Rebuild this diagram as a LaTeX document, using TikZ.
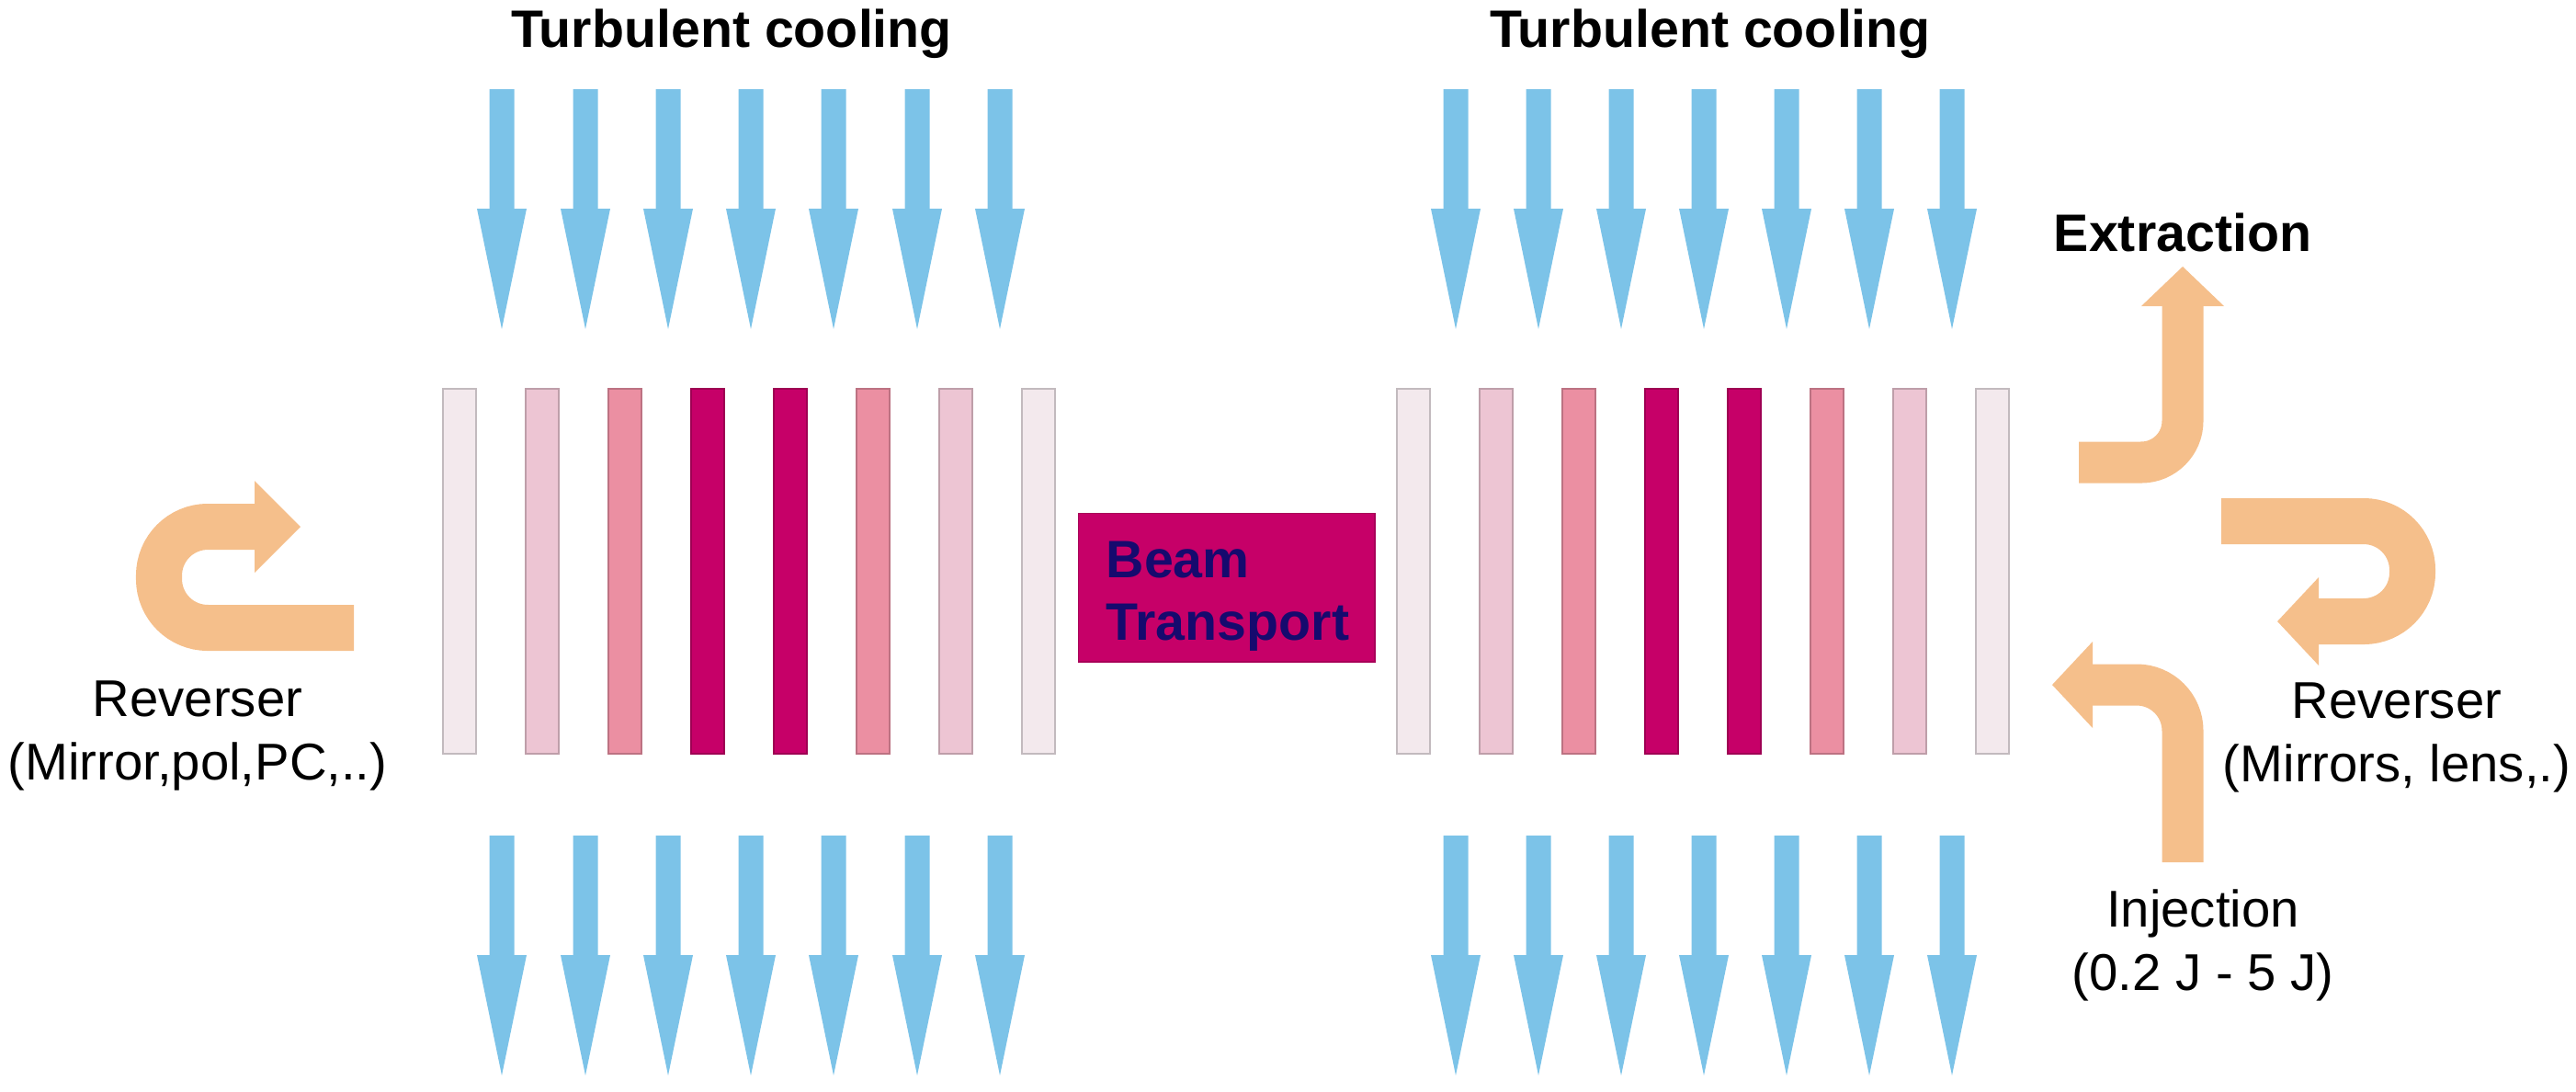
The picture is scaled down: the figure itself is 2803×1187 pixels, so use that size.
\documentclass[tikz,border=0pt]{standalone}
\usepackage{fontspec}
\setmainfont{Liberation Sans}

\definecolor{coolblue}{RGB}{124,195,232}
\definecolor{beamor}{RGB}{245,191,139}
\definecolor{slabA}{RGB}{243,233,237}
\definecolor{slabB}{RGB}{237,197,211}
\definecolor{slabC}{RGB}{235,143,162}
\definecolor{slabD}{RGB}{198,0,104}
\definecolor{navytext}{RGB}{22,10,110}

\begin{document}
\begin{tikzpicture}[x=0.01cm,y=-0.01cm,
    slab/.style={draw=#1!80!black,fill=#1,line width=0.6pt,minimum width=0.36cm,minimum height=3.96cm,inner sep=0pt},
    cooling/.style={fill=coolblue},
    beamflow/.style={draw=beamor,line width=0.5cm,rounded corners=0.53cm},
    beamhead/.style={fill=beamor},
    coolingtitle/.style={font=\bfseries\fontsize{16.3}{19.35}\selectfont,anchor=base},
    sidelabel/.style={font=\fontsize{16}{19.35}\selectfont,align=center,anchor=base},
    transport/.style={draw=slabD!85!black,fill=slabD,text=navytext,font=\bfseries\fontsize{16.3}{19.35}\selectfont,
        align=left,text width=2.62cm,inner xsep=0.3cm,minimum height=1.5cm,anchor=north west}]

  \useasboundingbox (0,0) rectangle (2803,1187);

  % amplifier slabs
  \foreach \c [count=\i] in {slabA,slabB,slabC,slabD,slabD,slabC,slabB,slabA}{
    \node[slab=\c] (L\i) at ({410+90*\i},621.5) {};
    \node[slab=\c] (R\i) at ({1448+90*\i},621.5) {};
  }

  % cooling flow
  \foreach \x in {546,637,727,817,907,998,1088,1584,1674,1764,1854,1944,2034,2124}
    \foreach \y in {97,909}
      \fill[cooling] ({\x-13.5},\y) -- ({\x+13.5},\y) -- ({\x+13.5},\y+130) -- ({\x+27},\y+130)
        -- (\x,\y+261) -- ({\x-27},\y+130) -- ({\x-13.5},\y+130) -- cycle;

  \node[transport] (bt) at (1173,558) {\rule{0pt}{0.58cm}Beam\\Transport};

  \node[coolingtitle] (tcL) at (796,51) {Turbulent cooling};
  \node[coolingtitle] (tcR) at (1861,51) {Turbulent cooling};
  \node[coolingtitle] (ext) at (2375,273) {Extraction};
  \node[sidelabel] (revL) at (215,848) {Reverser\\(Mirror,pol,PC,..)};
  \node[sidelabel] (revR) at (2608,850) {Reverser\\(Mirrors, lens,.)};
  \node[sidelabel] (inj) at (2397,1077) {Injection\\(0.2 J - 5 J)};

  % beam path
  \draw[beamflow] (385,683) -- (173,683) -- (173,573) -- (277,573);
  \fill[beamhead] (277,523) -- (327,573) -- (277,623) -- cycle;
  \draw[beamflow] (2417,567) -- (2625,567) -- (2625,676) -- (2523,676);
  \fill[beamhead] (2523,628) -- (2478,676) -- (2523,724) -- cycle;
  \draw[beamflow,line width=0.45cm,rounded corners=0.45cm] (2262,503) -- (2375,503) -- (2375,333);
  \fill[beamhead] (2330,333) -- (2375,290) -- (2420,333) -- cycle;
  \draw[beamflow,line width=0.45cm,rounded corners=0.5cm] (2375,938) -- (2375,745) -- (2277,745);
  \fill[beamhead] (2277,698) -- (2233,745) -- (2277,792) -- cycle;
\end{tikzpicture}
\end{document}
